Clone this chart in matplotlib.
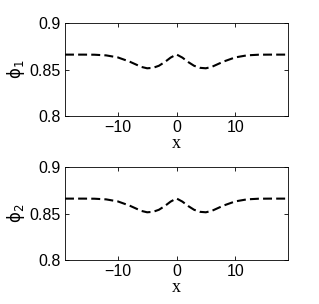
import matplotlib
matplotlib.use("Agg")
import matplotlib.pyplot as plt

x = [-19, -16, -14, -12, -10, -8, -6, -5, -4, -3, -2, -1, 0,
     1, 2, 3, 4, 5, 6, 8, 10, 12, 14, 16, 19]
phi1 = [0.866, 0.866, 0.8659, 0.8652, 0.863, 0.8585, 0.8528, 0.8513, 0.8518,
        0.8540, 0.8580, 0.8628, 0.8662,
        0.8628, 0.8580, 0.8540, 0.8518, 0.8513, 0.8528, 0.8585, 0.863,
        0.8652, 0.8659, 0.866, 0.866]
phi2 = list(phi1)

plt.rcParams['font.family'] = ['Liberation Sans', 'DejaVu Sans']
plt.rcParams['font.size'] = 11.5

fig = plt.figure(figsize=(3.19, 3.04), dpi=100)
W, H = 319, 304
boxes = [(65, 23, 288, 116), (65, 167, 288, 260)]
series = [phi1, phi2]
labels = [r'$\mathregular{ϕ_1}$', r'$\mathregular{ϕ_2}$']

for (l, t, r, b), y, lab in zip(boxes, series, labels):
    ax = fig.add_axes([l / W, 1 - b / H, (r - l) / W, (b - t) / H])
    ax.plot(x, y, color='black', linestyle=(0, (4.3, 2.0)), linewidth=1.5)
    ax.set_xlim(-19, 19)
    ax.set_ylim(0.8, 0.9)
    ax.set_xticks([-10, 0, 10])
    ax.set_yticks([0.8, 0.85, 0.9])
    ax.set_yticklabels(['0.8', '0.85', '0.9'])
    ax.tick_params(direction='in', top=True, right=True, length=3, width=0.6, pad=3)
    for s in ax.spines.values():
        s.set_linewidth(0.6)
    ax.set_xlabel('x', family='Liberation Serif', fontsize=13, labelpad=0)
    ax.set_ylabel(lab, family='DejaVu Sans', fontsize=12, labelpad=2)

fig.savefig('out.png', dpi=100)
